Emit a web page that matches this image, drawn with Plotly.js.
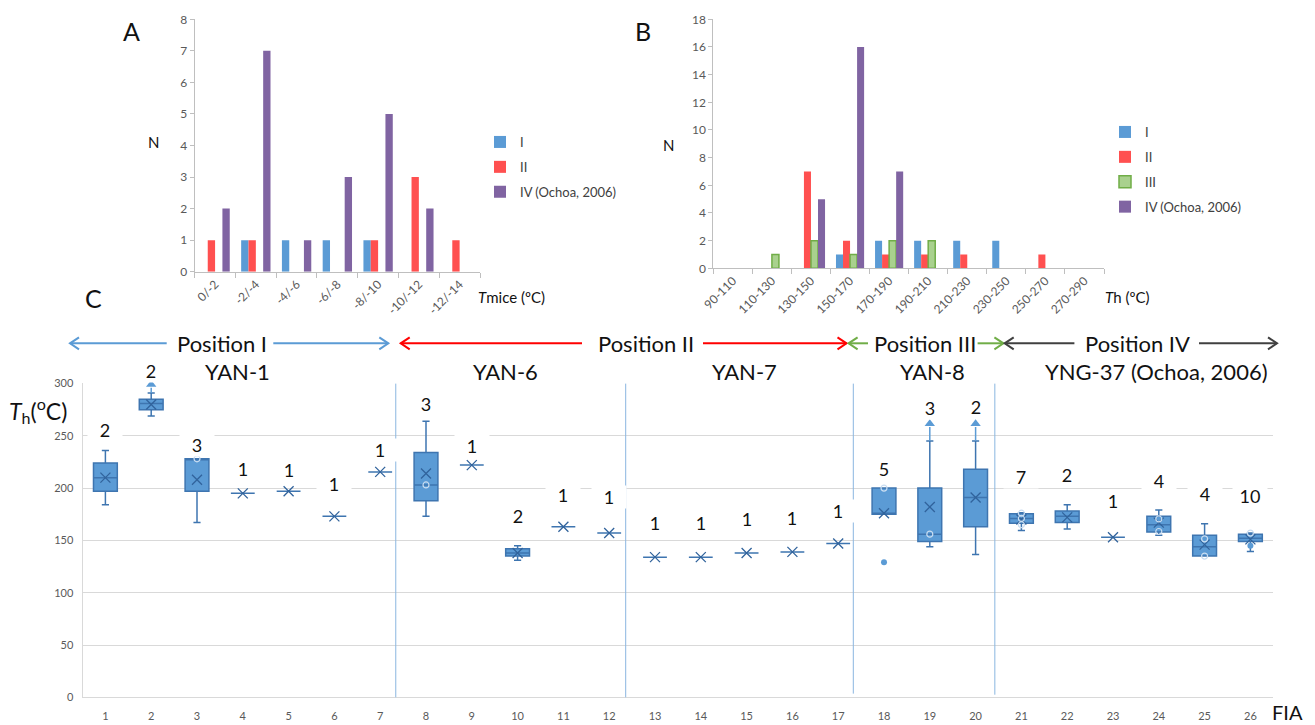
<!DOCTYPE html>
<html><head><meta charset="utf-8">
<script src="https://cdn.plot.ly/plotly-3.0.1.min.js"></script>
<style>html,body{margin:0;padding:0;background:#fff}#chart{width:1315px;height:725px}</style>
</head><body><div id="chart"></div>
<script>
// ---------- Panel A data ----------
const tmiceCats = ['0/-2','-2/-4','-4/-6','-6/-8','-8/-10','-10/-12','-12/-14'];
const tmiceI  = [0,1,1,1,1,0,0];
const tmiceII = [1,1,0,0,1,3,1];
const tmiceIII = [0,0,0,0,0,0,0];
const tmiceIV = [2,7,1,3,5,2,0];

// ---------- Panel B data ----------
const thCats = ['90-110','110-130','130-150','150-170','170-190','190-210','210-230','230-250','250-270','270-290'];
const thI   = [0,0,0,1,2,2,2,2,0,0];
const thII  = [0,0,7,2,1,1,1,0,1,0];
const thIII = [0,1,2,1,2,2,0,0,0,0];
const thIV  = [0,0,5,16,7,0,0,0,0,0];
const seriesNames = ['I','II','III','IV (Ochoa, 2006)'];

// ---------- Panel C data ----------
const fia    = [1,2,3,4,5,6,7,8,9,10,11,12,13,14,15,16,17,18,19,20,21,22,23,24,25,26];
const thMin  = [184,269,167,195,197,173,215.5,173,222,131,163,157,134,134,138,139,147,175,144,136.5,159.5,161,153,155,135,139.5];
const thQ1   = [197,275,197,195,197,173,215.5,188,222,135,163,157,134,134,138,139,147,175,149,163,166.5,167,153,158,135,149];
const thMed  = [210,281,228,195,197,173,215.5,203,222,138,163,157,134,134,138,139,147,175,156,191,171,173,153,165,144,152];
const thQ3   = [224,285,228,195,197,173,215.5,234,222,142,163,157,134,134,138,139,147,200,200,218,175.5,178,153,173,155,156];
const thMax  = [236,291,228,195,197,173,215.5,264,222,145,163,157,134,134,138,139,147,200,245,245,176.5,184,153,179,166,157];
const thMean = [210,280,208,195,197,173,215.5,214,222,138,163,157,134,134,138,139,147,176,182,191,170,172,153,167,146,151];
const counts = [2,2,3,1,1,1,1,3,1,2,1,1,1,1,1,1,1,5,3,2,7,2,1,4,4,10];
// inner points (hollow) and outliers (filled)
const innerX = [3,8,18,19,21,21,21,24,24,25,25,26];
const innerY = [228,203,200,156,176,171,165,170.5,158.5,151.5,135,157];
const outX = [18,26];
const outY = [129,145];
// FIA whose values exceed the upper whisker (arrow up)
const arrowFIA = [2,19,20];
const arrowTip = [299,261.5,261.5];

// ---------- layout helpers (positions, not data) ----------
const W = 1315, H = 725;
const px = v => v / W, py = v => 1 - v / H;
const labelPxY = [430,371,445,469,470,496,450,404,445.7,528,506.7,509,535,535,531,530,522.7,469.3,407.7,406.7,489,486.7,512.7,493.3,505.7,508];
const sepX = [7.34,12.36,17.33,20.42];
const sepBottom = [-2.6,-1,3.5,2.5];

const FONT = 'Lato, "Open Sans", sans-serif';
const cBlue = '#5B9BD5', cRed = '#FF5050', cGreenFill = '#A9D18E', cGreenLine = '#70AD47', cPurple = '#8064A2';
const colors = [cBlue, cRed, cGreenFill, cPurple];
const nz = a => a.map(v => (v === 0 ? null : v));

const traces = [];
// Panel A bars
[tmiceI, tmiceII, tmiceIII, tmiceIV].forEach((ys, i) => {
  traces.push({
    type: 'bar', x: tmiceCats, y: ys, name: seriesNames[i], xaxis: 'x', yaxis: 'y',
    marker: {color: colors[i], line: {width: 0}},
    showlegend: i !== 2, legend: 'legend', legendgroup: 'a' + i, hoverinfo: 'y'
  });
});
// Panel B bars
[thI, thII, thIII, thIV].forEach((ys, i) => {
  traces.push({
    type: 'bar', x: thCats, y: nz(ys), name: seriesNames[i], xaxis: 'x2', yaxis: 'y2',
    marker: {color: colors[i], line: {width: i === 2 ? 1.5 : 0, color: cGreenLine}},
    legend: 'legend2', legendgroup: 'b' + i, hoverinfo: 'y'
  });
});
// Panel C boxes
traces.push({
  type: 'box', x: fia, q1: thQ1, median: thMed, q3: thQ3, lowerfence: thMin, upperfence: thMax,
  xaxis: 'x3', yaxis: 'y3', fillcolor: cBlue, line: {color: '#3E75B0', width: 1.5},
  width: 0.52, whiskerwidth: 0.3, boxpoints: false, showlegend: false
});
// mean markers
traces.push({
  type: 'scatter', mode: 'markers', x: fia, y: thMean, xaxis: 'x3', yaxis: 'y3', showlegend: false,
  marker: {symbol: 'x-thin-open', size: 10, color: '#31639C', line: {color: '#31639C', width: 1.3}}, cliponaxis: false
});
// inner points
traces.push({
  type: 'scatter', mode: 'markers', x: innerX, y: innerY, xaxis: 'x3', yaxis: 'y3', showlegend: false,
  marker: {symbol: 'circle-open', size: 6, color: '#C9DDF1', line: {color: '#C9DDF1', width: 1.2}}
});
// outliers
traces.push({
  type: 'scatter', mode: 'markers', x: outX, y: outY, xaxis: 'x3', yaxis: 'y3', showlegend: false,
  marker: {symbol: 'circle', size: 6, color: cBlue}
});
// arrows for values above the whisker
const ax = [], ay = [];
arrowFIA.forEach((f, i) => { ax.push(f, f, null); ay.push(thMax[fia.indexOf(f)], arrowTip[i] - 3, null); });
traces.push({
  type: 'scatter', mode: 'lines', x: ax, y: ay, xaxis: 'x3', yaxis: 'y3', showlegend: false,
  line: {color: cBlue, width: 1.5}, cliponaxis: false, hoverinfo: 'skip'
});
traces.push({
  type: 'scatter', mode: 'markers', x: arrowFIA, y: arrowTip, xaxis: 'x3', yaxis: 'y3', showlegend: false,
  marker: {symbol: 'triangle-up', size: 9, color: cBlue}, cliponaxis: false, hoverinfo: 'skip'
});

const axGray = '#BFBFBF', tickGray = '#595959';
const barAxisX = {type: 'category', tickangle: -45, tickson: 'boundaries', ticks: 'outside', ticklen: 5,
  tickcolor: axGray, showline: true, linecolor: axGray, showgrid: false, zeroline: false,
  tickfont: {family: FONT, size: 12, color: tickGray}};
const barAxisY = {ticks: 'outside', ticklen: 4, tickcolor: axGray, showline: true, linecolor: axGray,
  showgrid: false, zeroline: false, tickfont: {family: FONT, size: 12, color: tickGray}};

const annotations = [];
const addText = (t, x, y, size, extra) => annotations.push(Object.assign({
  text: t, xref: 'paper', yref: 'paper', x: px(x), y: py(y), showarrow: false,
  xanchor: 'center', yanchor: 'middle', font: {family: FONT, size: size, color: '#111'}
}, extra || {}));

addText('A', 131, 31, 25);
addText('B', 643, 31, 25);
addText('C', 93, 298, 25);
addText('N', 153, 142, 15);
addText('N', 668, 145, 15);
addText('<i>T</i>mice (ºC)', 511, 297, 15);
addText('<i>T</i>h (ºC)', 1127, 297, 15);
addText('<i>T</i><sub>h</sub>(<sup>o</sup>C)', 38, 410, 23);
addText('FIA', 1287, 712, 20);

// header positions
addText('Position I', 221.7, 343.3, 22);
addText('Position II', 645.7, 343.3, 22);
addText('Position III', 925, 343.3, 22);
addText('Position IV', 1137, 343.3, 22);
addText('YAN-1', 237, 371.7, 22);
addText('YAN-6', 505, 371.7, 22);
addText('YAN-7', 744, 371.7, 22);
addText('YAN-8', 932, 371.7, 22);
addText('YNG-37 (Ochoa, 2006)', 1156, 371.7, 22);

// count labels (x in data units, y placed in page pixels)
fia.forEach((f, i) => annotations.push({
  text: String(counts[i]), xref: 'x3', yref: 'paper', x: f, y: py(labelPxY[i]), showarrow: false,
  bgcolor: '#ffffff', width: 32, height: 20, font: {family: FONT, size: 18, color: '#111'}
}));

const shapes = sepX.map((x, i) => ({
  type: 'line', xref: 'x3', yref: 'y3', x0: x, x1: x, y0: sepBottom[i], y1: 300,
  line: {color: '#8AB6E0', width: 1}
}));

// header arrows: line segments with open chevron heads (page pixel positions)
const arrowY = 343.3;
const arrowSegs = [
  [70, 166.7, cBlue], [388.3, 273.3, cBlue],
  [400.7, 582, '#FF0000'], [846.5, 703, '#FF0000'],
  [848.6, 868, cGreenLine], [1003.4, 977.6, cGreenLine],
  [1004.7, 1074.4, '#404040'], [1277, 1199, '#404040']
];
arrowSegs.forEach(([head, tail, col]) => {
  const dir = tail > head ? 1 : -1;
  shapes.push({type: 'line', xref: 'paper', yref: 'paper', x0: px(head), x1: px(tail), y0: py(arrowY), y1: py(arrowY),
    line: {color: col, width: 2}});
  shapes.push({type: 'path', xref: 'paper', yref: 'paper',
    path: 'M' + px(head + dir * 9) + ',' + py(arrowY - 6) + ' L' + px(head) + ',' + py(arrowY) +
          ' L' + px(head + dir * 9) + ',' + py(arrowY + 6),
    line: {color: col, width: 2}});
});

const legendBase = {xanchor: 'left', yanchor: 'top', bgcolor: 'rgba(0,0,0,0)', traceorder: 'grouped',
  tracegroupgap: 5, itemwidth: 30, font: {family: FONT, size: 13, color: '#404040'}};

const layout = {
  width: W, height: H, margin: {l: 0, r: 0, t: 0, b: 0},
  paper_bgcolor: '#fff', plot_bgcolor: 'rgba(0,0,0,0)',
  font: {family: FONT, size: 12, color: '#333'},
  barmode: 'group', bargap: 0.28, bargroupgap: 0,
  xaxis: Object.assign({}, barAxisX, {domain: [px(194.7), px(480)], anchor: 'y'}),
  yaxis: Object.assign({}, barAxisY, {domain: [py(271.7), py(19.3)], range: [0, 8], dtick: 1, anchor: 'x'}),
  xaxis2: Object.assign({}, barAxisX, {domain: [px(713.3), px(1104)], anchor: 'y2'}),
  yaxis2: Object.assign({}, barAxisY, {domain: [py(268.3), py(19.3)], range: [0, 18], dtick: 2, anchor: 'x2'}),
  xaxis3: {domain: [px(82.5), px(1273.3)], range: [0.5, 26.5], tickvals: fia, ticks: '', showgrid: false,
    zeroline: false, showline: true, linecolor: '#D9D9D9', anchor: 'y3', ticklabelstandoff: 8,
    tickfont: {family: FONT, size: 11, color: tickGray}},
  yaxis3: {domain: [py(697.3), py(383.3)], range: [0, 300.2], dtick: 50, ticks: '', showgrid: true,
    gridcolor: '#D9D9D9', zeroline: false, showline: true, linecolor: '#D9D9D9', anchor: 'x3',
    ticklabelstandoff: 6, tickfont: {family: FONT, size: 11, color: tickGray}},
  legend: Object.assign({}, legendBase, {x: px(480), y: py(127)}),
  legend2: Object.assign({}, legendBase, {x: px(1105), y: py(117)}),
  annotations: annotations, shapes: shapes
};

Plotly.newPlot('chart', traces, layout, {displayModeBar: false, staticPlot: true});
</script></body></html>
